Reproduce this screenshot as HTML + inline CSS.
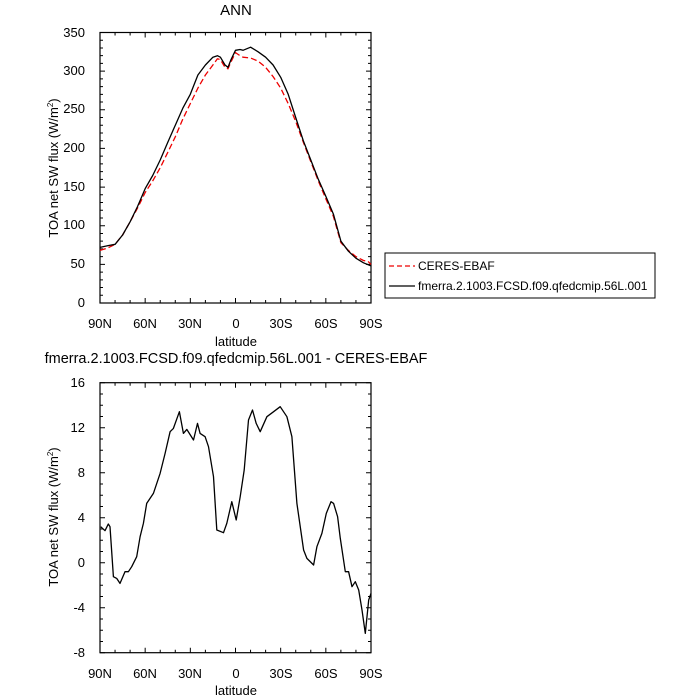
<!DOCTYPE html>
<html><head><meta charset="utf-8"><style>
html,body{margin:0;padding:0;background:#fff;}
svg{display:block;font-family:"Liberation Sans",Arial,sans-serif;}
</style></head><body>
<svg id="s" width="700" height="700" viewBox="0 0 700 700">
<rect width="700" height="700" fill="#fff"/>
<text x="236" y="15" font-size="15" text-anchor="middle">ANN</text>
<text x="236" y="363" font-size="14.5" text-anchor="middle">fmerra.2.1003.FCSD.f09.qfedcmip.56L.001 - CERES-EBAF</text>
<g font-size="13" text-anchor="end">
<text x="85" y="307">0</text><text x="85" y="268">50</text><text x="85" y="229">100</text><text x="85" y="191">150</text><text x="85" y="152">200</text><text x="85" y="113">250</text><text x="85" y="75">300</text><text x="85" y="37">350</text>
<text x="85" y="387">16</text><text x="85" y="432">12</text><text x="85" y="477">8</text><text x="85" y="522">4</text><text x="85" y="567">0</text><text x="85" y="612">-4</text><text x="85" y="657">-8</text>
</g>
<g font-size="13" text-anchor="middle">
<text x="100" y="328">90N</text><text x="145" y="328">60N</text><text x="190" y="328">30N</text><text x="236" y="328">0</text><text x="281" y="328">30S</text><text x="326" y="328">60S</text><text x="371" y="328">90S</text>
<text x="236" y="346">latitude</text>
<text x="100" y="678">90N</text><text x="145" y="678">60N</text><text x="190" y="678">30N</text><text x="236" y="678">0</text><text x="281" y="678">30S</text><text x="326" y="678">60S</text><text x="371" y="678">90S</text>
<text x="236" y="695">latitude</text>
</g>
<text transform="translate(58,168) rotate(-90)" font-size="13" text-anchor="middle">TOA net SW flux (W/m<tspan font-size="8" dy="-5">2</tspan><tspan dy="5">)</tspan></text>
<text transform="translate(58,517) rotate(-90)" font-size="13" text-anchor="middle">TOA net SW flux (W/m<tspan font-size="8" dy="-5">2</tspan><tspan dy="5">)</tspan></text>
<rect x="385" y="253" width="270" height="45" fill="none" stroke="#000" stroke-width="1"/>
<line x1="389" y1="266" x2="415" y2="266" stroke="#e00" stroke-width="1.2" stroke-dasharray="5,3"/>
<line x1="389" y1="286" x2="415" y2="286" stroke="#000" stroke-width="1.2"/>
<text x="418" y="270" font-size="12">CERES-EBAF</text>
<text x="418" y="290" font-size="12">fmerra.2.1003.FCSD.f09.qfedcmip.56L.001</text>
<g id="g"></g>
</svg>
<script>
var g=document.getElementById('g'),NS='http://www.w3.org/2000/svg';
function el(t,a){var e=document.createElementNS(NS,t);for(var k in a)e.setAttribute(k,a[k]);g.appendChild(e);}
function X(l){return 100+(90-l)*271/180;}
function axes(t,b,vmin,vmax,maj,mn){
 el('rect',{x:100,y:t,width:271,height:b-t,fill:'none',stroke:'#000','stroke-width':1.2});
 var d='';
 for(var l=90;l>=-90;l-=10){var x=X(l),L=(l%30==0)?5:3;d+='M'+x+' '+b+'v-'+L+'M'+x+' '+t+'v'+L;}
 for(var v=vmin;v<=vmax+1e-9;v+=mn){var y=b-(v-vmin)*(b-t)/(vmax-vmin),L=(Math.abs(v/maj-Math.round(v/maj))<1e-6)?5:3;d+='M100 '+y+'h'+L+'M371 '+y+'h-'+L;}
 el('path',{d:d,stroke:'#000','stroke-width':1,fill:'none'});
}
function line(pts,t,b,vmin,vmax,st){
 var d='';pts.forEach(function(p,i){d+=(i?'L':'M')+X(p[0]).toFixed(1)+' '+(b-(p[1]-vmin)*(b-t)/(vmax-vmin)).toFixed(1);});
 var a={d:d,fill:'none','stroke-width':1.3,stroke:st,'stroke-linejoin':'round'};
 if(st!='#000')a['stroke-dasharray']='6,3';el('path',a);
}
axes(32.5,303,0,350,50,10);
axes(382.7,652.7,-8,16,4,1);
var blk=[[90,72],[85,74],[80,76],[75,88],[70,105],[65,125],[60,148],[55,165],[50,185],[45,208],[40,230],[35,252],[30,270],[25,295],[20,308],[15,318],[12,320],[10,318],[7,308],[5,305],[3,315],[0,327],[-3,328],[-5,327],[-10,331],[-15,325],[-20,318],[-25,308],[-30,292],[-35,270],[-40,240],[-45,210],[-50,185],[-55,160],[-60,138],[-65,115],[-70,80],[-75,67],[-80,58],[-85,52],[-90,48]];
var red=[[90,68],[85,71],[80,76],[75,88],[70,105],[65,123],[60,143],[55,158],[50,175],[45,195],[40,215],[35,238],[30,258],[25,278],[20,295],[15,308],[12,316],[10,315],[7,305],[5,303],[3,312],[0,324],[-3,320],[-5,318],[-10,317],[-15,313],[-20,305],[-25,293],[-30,278],[-35,258],[-40,235],[-45,208],[-50,183],[-55,158],[-60,135],[-65,112],[-70,78],[-75,68],[-80,60],[-85,55],[-88,54],[-90,50]];
line(red,32.5,303,0,350,'#e00');
line(blk,32.5,303,0,350,'#000');
var zp=[[182,470],[195,482],[205,462],[210,470],[220,620],[230,625],[240,640],[255,605],[265,605],[275,590],[290,560],[300,500],[310,460],[320,400],[340,370],[360,310],[375,250],[390,185],[400,175],[418,125],[430,190],[440,178],[460,210],[472,160],[480,190],[495,200],[505,230],[520,320],[530,480],[550,488],[560,460],[575,395],[588,450],[600,380],[612,300],[625,150],[637,120],[648,160],[660,185],[680,140],[700,125],[720,110],[740,140],[755,200],[770,400],[790,540],[800,565],[820,585],[830,530],[845,490],[858,430],[872,395],[880,400],[892,440],[900,505],[915,605],[925,605],[935,650],[945,635],[955,660],[965,720],[975,790],[985,690],[992,670]];
var diff=zp.map(function(p){return [90-(p[0]-180)/4.511,16-(p[1]-38)/33.75];});
line(diff,382.7,652.7,-8,16,'#000');
</script>
</body></html>
